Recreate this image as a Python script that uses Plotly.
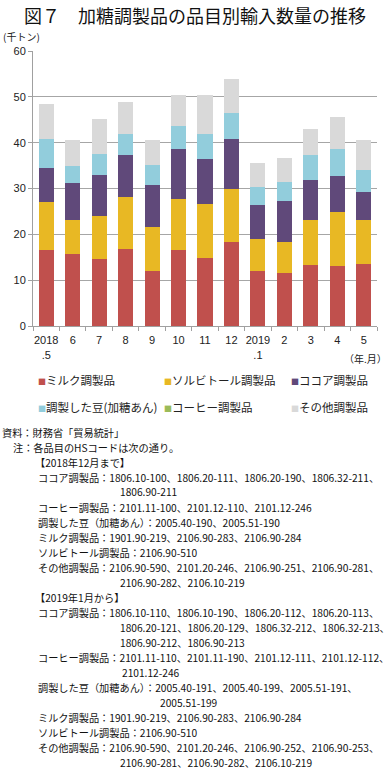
import plotly.graph_objects as go

# ---- data (thousand tonnes) ----
months = ["2018.5", "6", "7", "8", "9", "10", "11", "12", "2019.1", "2", "3", "4", "5"]
tick_labels = ["2018<br>.5", "6", "7", "8", "9", "10", "11", "12", "2019<br>.1", "2", "3", "4", "5"]
milk = [16.6, 15.8, 14.6, 16.9, 11.9, 16.6, 14.8, 18.4, 12.0, 11.6, 13.3, 13.1, 13.5]
sorbitol = [10.4, 7.3, 9.5, 11.2, 9.8, 11.1, 11.9, 11.6, 7.0, 6.7, 9.9, 11.8, 9.6]
cocoa = [7.5, 8.0, 8.9, 9.2, 9.1, 11.0, 9.7, 10.7, 7.5, 9.0, 8.7, 7.9, 6.2]
beans = [6.2, 3.8, 4.6, 4.7, 4.3, 5.0, 5.6, 5.8, 3.9, 4.2, 5.5, 5.8, 4.8]
coffee = [0, 0, 0, 0, 0, 0, 0, 0, 0, 0, 0, 0, 0]
other = [7.8, 5.7, 7.5, 6.8, 5.5, 6.7, 8.5, 7.3, 5.2, 5.2, 5.6, 7.1, 6.4]

series_names = ["ミルク調製品", "ソルビトール調製品", "ココア調製品",
                "調製した豆(加糖あん)", "コーヒー調製品", "その他調製品"]
series_values = [milk, sorbitol, cocoa, beans, coffee, other]
colors = ["#c0504d", "#e8b824", "#60497a", "#92cddc", "#9bbb59", "#d9d9d9"]

title_text = "図７　加糖調製品の品目別輸入数量の推移"
y_unit = "(千トン)"
x_unit = "（年.月）"

notes = [
    (0, "資料：財務省「貿易統計」"),
    (11, "注：各品目のHSコードは次の通り。"),
    (33, "【2018年12月まで】"),
    (36, "ココア調製品：1806.10-100、1806.20-111、1806.20-190、1806.32-211、"),
    (118, "1806.90-211"),
    (36, "コーヒー調製品：2101.11-100、2101.12-110、2101.12-246"),
    (36, "調製した豆（加糖あん）：2005.40-190、2005.51-190"),
    (36, "ミルク調製品：1901.90-219、2106.90-283、2106.90-284"),
    (36, "ソルビトール調製品：2106.90-510"),
    (36, "その他調製品：2106.90-590、2101.20-246、2106.90-251、2106.90-281、"),
    (118, "2106.90-282、2106.10-219"),
    (33, "【2019年1月から】"),
    (36, "ココア調製品：1806.10-110、1806.10-190、1806.20-112、1806.20-113、"),
    (118, "1806.20-121、1806.20-129、1806.32-212、1806.32-213、"),
    (118, "1806.90-212、1806.90-213"),
    (36, "コーヒー調製品：2101.11-110、2101.11-190、2101.12-111、2101.12-112、"),
    (120, "2101.12-246"),
    (36, "調製した豆（加糖あん）：2005.40-191、2005.40-199、2005.51-191、"),
    (158, "2005.51-199"),
    (36, "ミルク調製品：1901.90-219、2106.90-283、2106.90-284"),
    (36, "ソルビトール調製品：2106.90-510"),
    (36, "その他調製品：2106.90-590、2101.20-246、2106.90-252、2106.90-253、"),
    (118, "2106.90-281、2106.90-282、2106.10-219"),
]

# ---- layout geometry ----
W, H = 390, 772
L, R, T, B = 33, 13, 51, 446
PW, PH = W - L - R, H - T - B


def px(x):
    return (x - L) / PW


def py(y):
    return (H - B - y) / PH


JP = "Noto Sans CJK JP, sans-serif"
NUM = "Liberation Sans, Arial, sans-serif"

fig = go.Figure()
for name, vals, col in zip(series_names, series_values, colors):
    fig.add_trace(go.Bar(x=months, y=vals, name=name, marker=dict(color=col, line=dict(width=0)),
                         showlegend=False))

ann = []
ann.append(dict(text=title_text, x=px(195), y=py(15), xref="paper", yref="paper",
                xanchor="center", yanchor="middle", showarrow=False,
                font=dict(family=JP, size=18, color="#111")))
ann.append(dict(text=y_unit, x=px(1), y=py(37), xref="paper", yref="paper",
                xanchor="left", yanchor="middle", showarrow=False,
                font=dict(family=JP, size=10, color="#222")))
ann.append(dict(text=x_unit, x=px(389), y=py(358), xref="paper", yref="paper",
                xanchor="right", yanchor="middle", showarrow=False,
                font=dict(family=JP, size=10, color="#222")))

# legend as text with coloured squares
leg_pos = [(36, 380), (162, 380), (289, 380), (36, 407), (162, 407), (289, 407)]
for (lx, ly), name, col in zip(leg_pos, series_names, colors):
    ann.append(dict(text=f"<span style='color:{col};font-size:8px'>■</span>{name}",
                    x=px(lx), y=py(ly), xref="paper", yref="paper",
                    xanchor="left", yanchor="middle", showarrow=False,
                    font=dict(family=JP, size=11.5, color="#222")))

for i, (nx, txt) in enumerate(notes):
    ann.append(dict(text=txt, x=px(nx), y=py(432 + 15 * i), xref="paper", yref="paper",
                    xanchor="left", yanchor="middle", showarrow=False,
                    font=dict(family=JP, size=10.2, color="#111")))

fig.update_layout(
    width=W, height=H,
    margin=dict(l=L, r=R, t=T, b=B, pad=0),
    barmode="stack", bargap=0.43,
    paper_bgcolor="white", plot_bgcolor="white",
    annotations=ann,
    xaxis=dict(type="category", tickmode="array", tickvals=months, ticktext=tick_labels,
               tickangle=0, tickson="boundaries", ticks="outside", ticklen=4, tickcolor="#a0a0a0",
               ticklabelstandoff=4,
               showline=True, linecolor="#a0a0a0", linewidth=1, showgrid=False,
               tickfont=dict(family=NUM, size=11, color="#222"), fixedrange=True),
    yaxis=dict(range=[0, 60], dtick=10, ticks="outside", ticklen=4, tickcolor="#a0a0a0",
               showline=True, linecolor="#a0a0a0", linewidth=1,
               showgrid=True, gridcolor="#a6a6a6", gridwidth=1, zeroline=False,
               tickfont=dict(family=NUM, size=11, color="#222"), fixedrange=True),
)

fig.write_html("out.html", config={"displayModeBar": False},
               post_script="document.body.style.margin='0';document.body.style.overflow='hidden';")
